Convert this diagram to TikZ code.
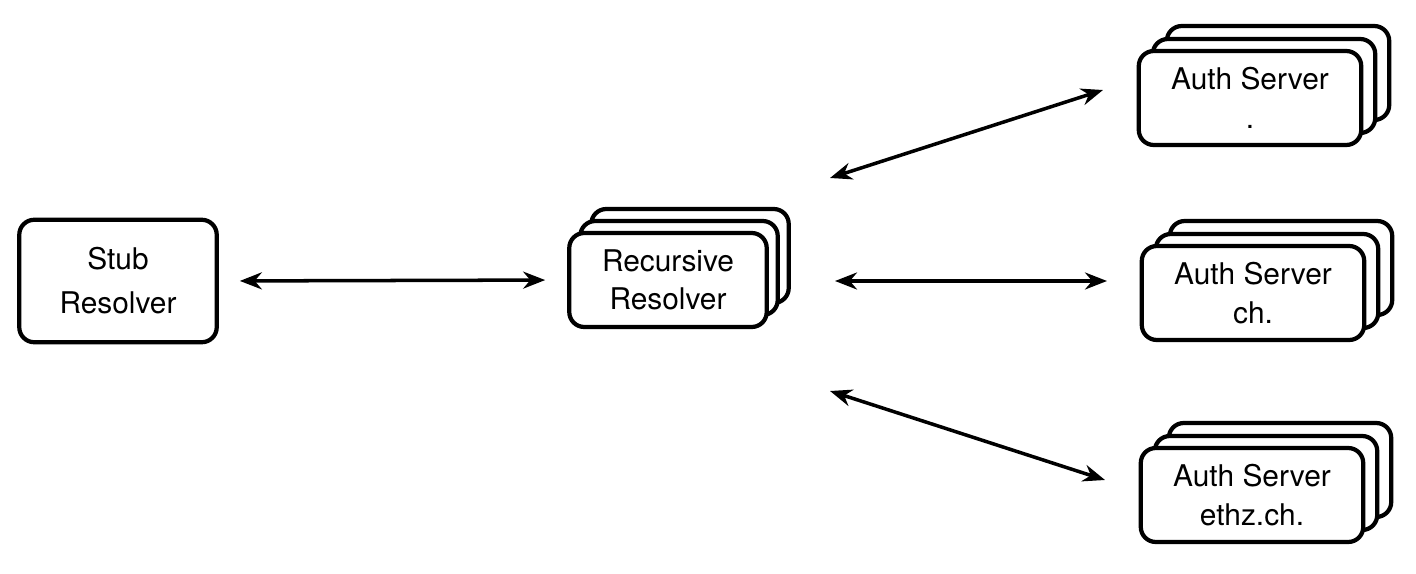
\documentclass[tikz,border=0pt]{standalone}
\usepackage{fontspec}
\setmainfont{TeX Gyre Heros}
\usetikzlibrary{arrows.meta}

\begin{document}
\begin{tikzpicture}[x=0.02cm, y=-0.02cm, <->, >={Stealth[length=0.44cm,width=0.34cm]}, line width=2pt, font=\fontsize{17}{22}\selectfont]
    \tikzstyle{box}=[draw=black, fill=white, line width=2.4pt, rounded corners=0.3cm, align=center, inner sep=0pt, -]
    \tikzstyle{small box}=[box, minimum width=3.95cm, minimum height=1.88cm]
    \tikzstyle{auth box}=[box, minimum width=4.45cm, minimum height=1.88cm]
    \useasboundingbox (0,0) rectangle (1416,574);
    % stub resolver
    \node[box, minimum width=3.95cm, minimum height=2.45cm] (stub) at (118,281) {Stub\\[3pt]Resolver};
    % recursive resolver, stacked
    \node[small box] (rec_3) at (690,256) {};
    \node[small box] (rec_2) at (679,268) {};
    \node[small box] (rec)   at (668,280) {Recursive\\Resolver};
    % auth servers, stacked
    \node[auth box] (root_3) at (1278,73) {};
    \node[auth box] (root_2) at (1264,86) {};
    \node[auth box] (root)   at (1250,98) {Auth Server\\.};
    \node[auth box] (ch_3) at (1281,268) {};
    \node[auth box] (ch_2) at (1267,281) {};
    \node[auth box] (ch)   at (1253,293) {Auth Server\\ch.};
    \node[auth box] (ethz_3) at (1280,470) {};
    \node[auth box] (ethz_2) at (1266,483) {};
    \node[auth box] (ethz)   at (1252,495) {Auth Server\\ethz.ch.};
    % free ends of the links
    \coordinate (q_root) at (830,178);
    \coordinate (q_ch)   at (835,281);
    \coordinate (q_ethz) at (830,391);
    \coordinate (a_root) at (1103,90);
    \coordinate (a_ch)   at (1107,281);
    \coordinate (a_ethz) at (1105,480);
    \draw[shorten <=0.42cm, shorten >=0.44cm] (stub.east) -- (rec.west);
    \draw (q_root) -- (a_root);
    \draw (q_ch) -- (a_ch);
    \draw (q_ethz) -- (a_ethz);
\end{tikzpicture}
\end{document}
